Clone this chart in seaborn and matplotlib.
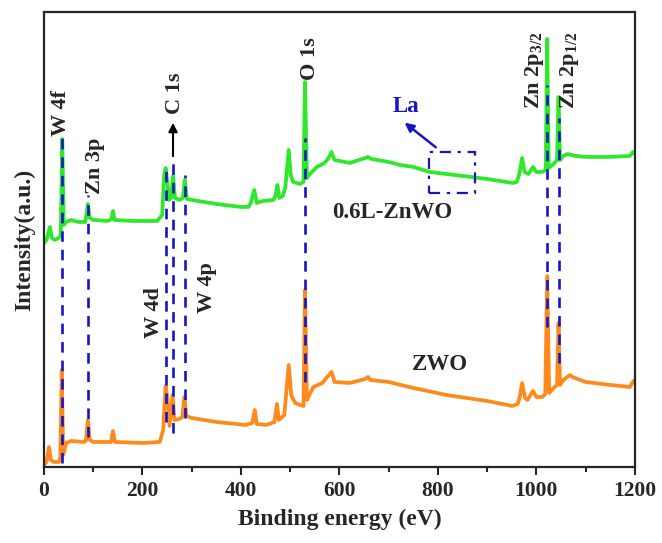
import numpy as np
import pandas as pd
import matplotlib
matplotlib.use("Agg")
import matplotlib.pyplot as plt
import seaborn as sns
from matplotlib.patches import Rectangle

# ---------------- data ----------------
# 0.6L-ZnWO survey spectrum (binding energy eV, intensity a.u.)
green_be = [0, 5, 12, 16, 22, 30, 34, 37, 40, 45, 55, 70, 84, 89, 93, 100, 130, 137, 140, 143,
            180, 230, 240, 244, 247, 250, 254, 258, 262, 266, 275, 282, 286, 290, 300, 350, 400,
            415, 420, 427, 432, 445, 466, 470, 474, 478, 485, 490, 497, 501, 506, 520, 527, 530,
            534, 540, 554, 570, 578, 584, 590, 621, 640, 653, 658, 665, 700, 723, 750, 783, 850,
            900, 951, 960, 965, 971, 976, 984, 993, 1000, 1012, 1019, 1022, 1025, 1035, 1042, 1045,
            1048, 1055, 1063, 1080, 1100, 1150, 1190, 1196, 1200]
green_int = [224, 227, 240, 229, 227, 229, 232, 328, 242, 245, 247, 245, 245, 263, 249, 247, 246, 248, 256, 247,
             246, 246, 252, 292, 299, 287, 267, 269, 291, 269, 267, 269, 287, 268, 267, 263, 260,
             260, 264, 277, 264, 266, 267, 271, 282, 269, 271, 279, 317, 292, 285, 283, 285, 385,
             289, 293, 300, 304, 309, 315, 307, 304, 307, 309, 310, 308, 305, 302, 300, 295, 291,
             288, 284, 285, 292, 309, 295, 293, 300, 295, 295, 297, 428, 299, 303, 307, 370,
             307, 311, 313, 311, 310, 310, 311, 315, 313]

# ZWO survey spectrum
orange_be = [0, 5, 10, 14, 20, 30, 33, 36, 39, 45, 55, 80, 85, 89, 93, 100, 136, 140, 144, 200,
             235, 242, 247, 251, 255, 261, 265, 275, 281, 285, 289, 300, 350, 410, 423, 428, 432,
             452, 468, 473, 477, 488, 497, 502, 510, 520, 527, 530, 534, 547, 565, 584, 590, 621,
             653, 658, 663, 700, 750, 817, 900, 951, 962, 966, 971, 977, 982, 993, 1000, 1012, 1018,
             1022, 1026, 1035, 1042, 1045, 1048, 1055, 1068, 1073, 1100, 1150, 1190, 1196, 1200]
orange_int = [2, 5, 20, 7, 5, 5, 9, 97, 12, 24, 26, 25, 26, 47, 27, 25, 25, 36, 25, 24,
              25, 37, 81, 67, 41, 72, 47, 48, 50, 70, 51, 49, 45, 42, 44, 57, 43,
              42, 45, 63, 47, 52, 102, 72, 64, 62, 61, 177, 67, 80, 84, 95, 85, 84,
              88, 90, 87, 85, 79, 72, 66, 61, 63, 69, 84, 69, 67, 76, 70, 70, 73,
              191, 74, 79, 82, 144, 82, 87, 92, 90, 85, 82, 80, 85, 87]

# peak markers: label, energy, dashed-line intensity range (bottom, top)
peak_names = ["W 4f", "Zn 3p", "W 4d", "C 1s", "W 4p", "O 1s", "Zn 2p3/2", "Zn 2p1/2"]
peak_be = [37, 89, 247, 262, 286, 530, 1022, 1045]
peak_lo = [4, 30, 45, 34, 49, 85, 140, 104]
peak_hi = [329, 272, 302, 310, 292, 329, 382, 349]

# ---------------- style ----------------
sns.set_style("ticks")
plt.rcParams["font.family"] = ["Liberation Serif", "DejaVu Serif"]
plt.rcParams["font.weight"] = "bold"
plt.rcParams["mathtext.fontset"] = "custom"
plt.rcParams["mathtext.rm"] = "Liberation Serif"
plt.rcParams["mathtext.it"] = "Liberation Serif"
plt.rcParams["mathtext.bf"] = "Liberation Serif:bold"

GREEN = "#2ee82a"
ORANGE = "#ff8a1c"
BLUE = "#1414c8"

fig = plt.figure(figsize=(6.62, 5.43), dpi=100)
ax = fig.add_axes([0.0665, 0.14, 0.8925, 0.838])

df_g = pd.DataFrame({"be": green_be, "I": green_int})
df_o = pd.DataFrame({"be": orange_be, "I": orange_int})
sns.lineplot(data=df_o, x="be", y="I", color=ORANGE, lw=2.7, ax=ax, sort=False, zorder=2)
sns.lineplot(data=df_g, x="be", y="I", color=GREEN, lw=2.7, ax=ax, sort=False, zorder=2)

for be, lo, hi in zip(peak_be, peak_lo, peak_hi):
    ax.plot([be, be], [lo, hi], color=BLUE, lw=1.9, dashes=(4, 3), zorder=3)

# C 1s arrow
ax.annotate("", xy=(262, 347), xytext=(262, 308),
            arrowprops=dict(arrowstyle="-|>", color="black", lw=1.5, mutation_scale=13), zorder=4)

fs = 16
tk = dict(rotation=90, fontsize=fs, fontweight="bold", ha="center", va="bottom")
ax.text(34, 331, "W 4f", **tk)
ax.text(103, 273, "Zn 3p", **tk)
ax.text(266, 353, "C 1s", **tk)
ax.text(540, 387, "O 1s", **tk)
ax.text(996, 358, r"Zn 2p$_{\mathregular{3/2}}$", **tk)
ax.text(1067, 358, r"Zn 2p$_{\mathregular{1/2}}$", **tk)
ax.text(223, 154, "W 4d", rotation=90, fontsize=fs, fontweight="bold", ha="center", va="center")
ax.text(330, 179, "W 4p", rotation=90, fontsize=fs, fontweight="bold", ha="center", va="center")

ax.text(707, 254, "0.6L-ZnWO", fontsize=16.5, fontweight="bold", ha="center", va="center")
ax.text(805, 102, "ZWO", fontsize=16.5, fontweight="bold", ha="center", va="center")

# La marker
ax.add_patch(Rectangle((782, 274), 94, 41, fill=False, edgecolor=BLUE, lw=1.6,
                       linestyle=(0, (5, 3, 1.5, 3)), zorder=4))
ax.annotate("", xy=(728, 346), xytext=(800, 318),
            arrowprops=dict(arrowstyle="-|>", color=BLUE, lw=1.8, mutation_scale=13), zorder=4)
ax.text(736, 360, "La", color=BLUE, fontsize=16.5, fontweight="bold", ha="center", va="center")

# axes
ax.set_xlim(0, 1200)
ax.set_ylim(0, 455)
ax.set_xticks(np.arange(0, 1201, 200))
ax.set_xticks(np.arange(100, 1200, 200), minor=True)
ax.set_yticks([])
ax.tick_params(axis="x", which="major", length=6, width=1.5, direction="out", labelsize=15.5, pad=4)
ax.tick_params(axis="x", which="minor", length=3.5, width=1.5, direction="out")
for lab in ax.get_xticklabels():
    lab.set_fontweight("bold")
for s in ax.spines.values():
    s.set_visible(True)
    s.set_linewidth(1.6)
ax.set_xlabel("Binding energy (eV)", fontsize=17, fontweight="bold", labelpad=6)
ax.set_ylabel("Intensity(a.u.)", fontsize=17, fontweight="bold", labelpad=6)

fig.savefig("out.png", dpi=100)
